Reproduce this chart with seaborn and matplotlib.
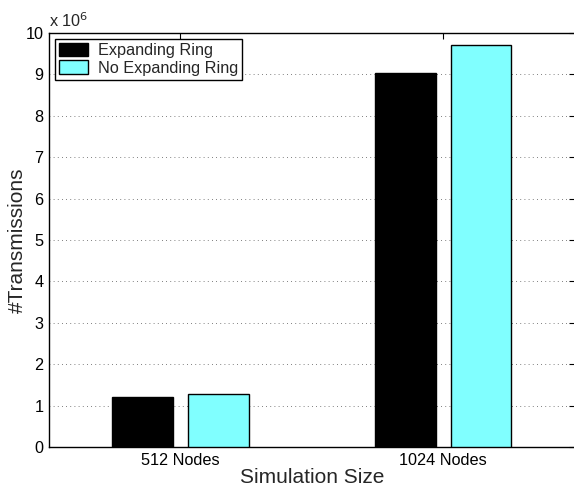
import numpy as np
import pandas as pd
import matplotlib
matplotlib.use('Agg')
import matplotlib.pyplot as plt
import seaborn as sns

# Данные
sizes = ['512 Nodes', '1024 Nodes']
series = ['Expanding Ring', 'No Expanding Ring']
expanding = [1.21e6, 9.03e6]
no_expanding = [1.28e6, 9.72e6]
colors = ['#000000', '#80FFFF']

df = pd.DataFrame({
    'size': sizes * 2,
    'series': [series[0]] * 2 + [series[1]] * 2,
    'value': expanding + no_expanding,
})

sns.set_style('white')
plt.rcParams['font.family'] = ['Liberation Sans', 'DejaVu Sans']

fig = plt.figure(figsize=(5.74, 4.86), dpi=100)
ax = fig.add_axes([0.0854, 0.0802, 0.916, 0.852])

sns.barplot(data=df, x='size', y='value', hue='series', palette=colors,
            saturation=1, width=0.572, gap=0.19, edgecolor='black',
            linewidth=1.0, ax=ax, zorder=3)

ax.set_xlim(-0.5, 1.5)
ax.set_ylim(0, 10e6)
ax.set_yticks(np.arange(0, 11) * 1e6)
ax.yaxis.set_major_formatter(plt.FuncFormatter(lambda v, p: f'{v / 1e6:g}'))
ax.text(0.0, 1.008, r'x 10$^{6}$', transform=ax.transAxes, fontsize=11.7,
        ha='left', va='bottom')

ax.yaxis.grid(True, linestyle=(0, (1, 4)), color='#555555', linewidth=0.6)
ax.set_axisbelow(True)

for s in ax.spines.values():
    s.set_visible(True)
    s.set_color('black')
    s.set_linewidth(1.0)
ax.tick_params(direction='in', length=4, width=0.8, top=True, right=True,
               labelsize=11.7, colors='black', pad=4)

ax.set_xlabel('Simulation Size', fontsize=15, labelpad=0.5)
ax.set_ylabel('#Transmissions', fontsize=15, labelpad=-1)

leg = ax.legend(loc='upper left', fontsize=11.7, frameon=True, fancybox=False,
                edgecolor='black', framealpha=1, borderaxespad=0.35,
                handlelength=1.8, handleheight=0.9, handletextpad=0.6,
                labelspacing=0.15, borderpad=0.25)
leg.get_frame().set_linewidth(1.0)
leg.set_title(None)

fig.savefig('out.png', dpi=100)
